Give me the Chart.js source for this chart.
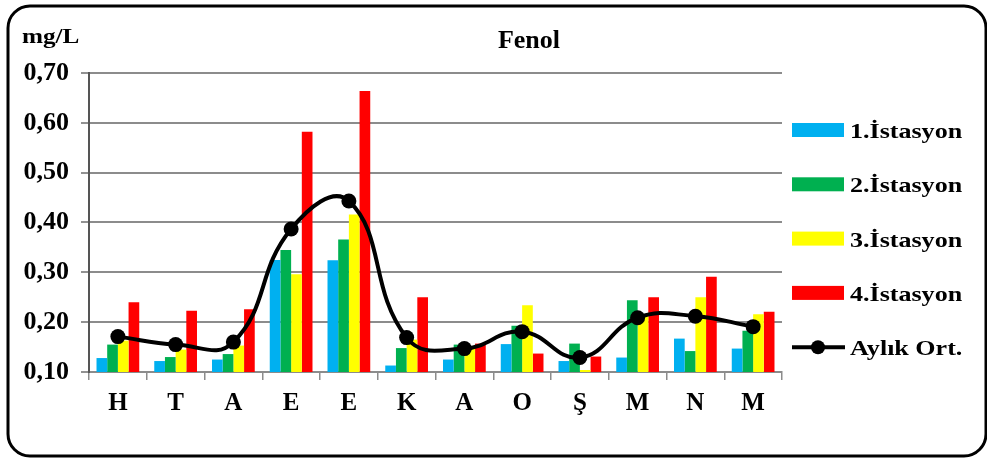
<!DOCTYPE html>
<html>
<head>
<meta charset="utf-8">
<script src="https://cdn.jsdelivr.net/npm/chart.js@4/dist/chart.umd.min.js"></script>
<style>
  html, body { margin: 0; padding: 0; background: #ffffff; }
  #wrap { position: relative; width: 987px; height: 458px; }
</style>
</head>
<body>
<div id="wrap"><canvas id="c" width="987" height="458"></canvas></div>
<script>
// Monthly phenol readings (mg/L) for four stations and their monthly mean
const months = ['H', 'T', 'A', 'E', 'E', 'K', 'A', 'O', 'Ş', 'M', 'N', 'M'];
const station1 = [0.128, 0.122, 0.125, 0.325, 0.324, 0.113, 0.125, 0.156, 0.122, 0.129, 0.167, 0.147];
const station2 = [0.155, 0.130, 0.136, 0.345, 0.366, 0.148, 0.155, 0.193, 0.157, 0.244, 0.142, 0.183];
const station3 = [0.163, 0.145, 0.153, 0.296, 0.416, 0.165, 0.151, 0.234, 0.104, 0.213, 0.250, 0.216];
const station4 = [0.240, 0.223, 0.226, 0.582, 0.664, 0.250, 0.157, 0.137, 0.131, 0.250, 0.291, 0.221];
const monthlyMean = [0.171, 0.155, 0.160, 0.387, 0.443, 0.169, 0.147, 0.181, 0.129, 0.209, 0.212, 0.191];
const seriesNames = ['1.İstasyon', '2.İstasyon', '3.İstasyon', '4.İstasyon', 'Aylık Ort.'];
const yTicks = [0.10, 0.20, 0.30, 0.40, 0.50, 0.60, 0.70];

const SERIF = '"Liberation Serif", "Times New Roman", serif';
const colors = ['#00B0F0', '#00B050', '#FFFF00', '#FF0000'];

const barSet = (label, data, color) => ({
  type: 'bar', label, data, backgroundColor: color, borderWidth: 0,
  categoryPercentage: 0.74, barPercentage: 1.0, order: 1
});

// Draws text slightly widened horizontally
function wideText(ctx, text, x, y, sx) {
  ctx.save();
  ctx.translate(x, y);
  ctx.scale(sx, 1);
  ctx.fillText(text, 0, 0);
  ctx.restore();
}

// Frame, headings and legend drawn on the canvas
const decorations = {
  id: 'decorations',
  beforeDraw(chart) {
    const ctx = chart.ctx;
    ctx.save();
    ctx.fillStyle = '#ffffff';
    ctx.fillRect(0, 0, chart.width, chart.height);
    ctx.restore();
  },
  afterDraw(chart) {
    const ctx = chart.ctx;
    ctx.save();
    // rounded outer frame
    ctx.lineWidth = 3;
    ctx.strokeStyle = '#000000';
    ctx.beginPath();
    ctx.roundRect(8, 6, 978, 450, 22);
    ctx.stroke();

    ctx.fillStyle = '#000000';
    ctx.textBaseline = 'alphabetic';
    ctx.textAlign = 'left';
    ctx.font = 'bold 21px ' + SERIF;
    wideText(ctx, 'mg/L', 22, 43, 1.2);
    ctx.font = 'bold 26px ' + SERIF;
    ctx.textAlign = 'center';
    ctx.fillText('Fenol', 529, 48);

    // legend
    const ds = chart.data.datasets;
    const bx = 792, bw = 52, step = 54.3, y0 = 130;
    ctx.font = 'bold 21px ' + SERIF;
    ctx.textAlign = 'left';
    seriesNames.forEach((name, i) => {
      const cy = y0 + step * i;
      const d = ds.find(s => s.label === name);
      if (d.type === 'bar') {
        ctx.fillStyle = d.backgroundColor;
        ctx.fillRect(bx, cy - 7, bw, 14);
      } else {
        ctx.strokeStyle = '#000000';
        ctx.lineWidth = 4;
        ctx.beginPath();
        ctx.moveTo(bx, cy);
        ctx.lineTo(bx + bw + 1, cy);
        ctx.stroke();
        ctx.fillStyle = '#000000';
        ctx.beginPath();
        ctx.arc(bx + bw / 2, cy, 7, 0, Math.PI * 2);
        ctx.fill();
      }
      ctx.fillStyle = '#000000';
      wideText(ctx, name, 850, cy + 8, 1.24);
    });
    ctx.restore();
  }
};

new Chart(document.getElementById('c'), {
  data: {
    labels: months,
    datasets: [
      {
        type: 'line', label: seriesNames[4], data: monthlyMean,
        borderColor: '#000000', backgroundColor: '#000000', borderWidth: 4,
        pointRadius: 7.5, pointHoverRadius: 7.5, pointBackgroundColor: '#000000',
        pointBorderWidth: 0, tension: 0.45, fill: false, order: 0
      },
      barSet(seriesNames[0], station1, colors[0]),
      barSet(seriesNames[1], station2, colors[1]),
      barSet(seriesNames[2], station3, colors[2]),
      barSet(seriesNames[3], station4, colors[3])
    ]
  },
  options: {
    responsive: false,
    animation: false,
    events: [],
    layout: { padding: { top: 73, right: 205, bottom: 0, left: 0 } },
    plugins: {
      legend: { display: false },
      title: { display: false },
      tooltip: { enabled: false }
    },
    scales: {
      x: {
        offset: true,
        grid: { display: true, drawOnChartArea: false, drawTicks: true, tickLength: 8, color: '#8c8c8c', lineWidth: 1.5 },
        border: { display: true, color: '#8c8c8c', width: 2 },
        ticks: { color: '#000000', font: { family: SERIF, size: 25, weight: 'bold' }, padding: 9, maxRotation: 0 },
        afterFit(s) { s.height = 86; }
      },
      y: {
        min: 0.1, max: 0.7,
        afterBuildTicks(s) { s.ticks = yTicks.map(v => ({ value: v })); },
        grid: { color: '#8c8c8c', lineWidth: 2, tickLength: 8, tickColor: '#6e6e6e', tickWidth: 1.5 },
        border: { display: true, color: '#555555', width: 2 },
        ticks: {
          color: '#000000', font: { family: SERIF, size: 26, weight: 'bold' }, padding: 12,
          callback: v => v.toFixed(2).replace('.', ',')
        },
        afterFit(s) { s.width = 89; }
      }
    }
  },
  plugins: [decorations]
});
</script>
</body>
</html>
